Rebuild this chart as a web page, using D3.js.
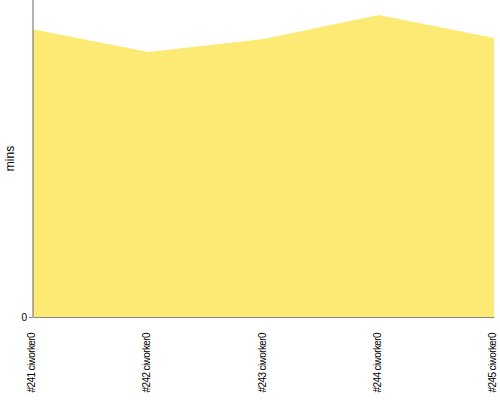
<!DOCTYPE html>
<html><head><meta charset="utf-8">
<script src="https://cdn.jsdelivr.net/npm/d3@7"></script>
<style>body{margin:0;background:#fff}svg{display:block}</style>
</head><body>
<svg id="c" width="500" height="400"></svg>
<script>
const categories = ["#241 ciworker0", "#242 ciworker0", "#243 ciworker0", "#244 ciworker0", "#245 ciworker0"];
const values = [9.08, 8.36, 8.77, 9.53, 8.80];
const yTicks = [0];

const svg = d3.select("#c");
const m = {left: 33, right: 6, top: 0, bottom: 83};
const W = 500, H = 400;
const x = d3.scalePoint().domain(categories).range([m.left, W - m.right]);
const y = d3.scaleLinear().domain([0, 10]).range([H - m.bottom, m.top]);

const area = d3.area().x((d, i) => x(categories[i])).y0(y(0)).y1(d => y(d));
svg.append("path").datum(values).attr("d", area).attr("fill", "#fdea74");

const gx = svg.append("g").attr("transform", `translate(0,${y(0)})`)
  .call(d3.axisBottom(x).tickSize(0).tickPadding(0));
gx.select(".domain").attr("stroke", "#888");
gx.selectAll("text").attr("transform", "rotate(-90)").attr("text-anchor", "end")
  .attr("x", -16).attr("y", -2).attr("dy", "0.35em")
  .style("font-family", "Liberation Sans, Arial, sans-serif").style("font-size", "10px")
  .style("letter-spacing", "-0.6px").attr("fill", "#000");

const gy = svg.append("g").attr("transform", `translate(${m.left},0)`)
  .call(d3.axisLeft(y).tickValues(yTicks).tickSize(4).tickPadding(2));
gy.select(".domain").attr("stroke", "#666").attr("d", `M0,${y(0)}V${m.top}`);
gy.selectAll(".tick line").attr("stroke", "#888");
gy.selectAll("text").style("font-family", "Liberation Sans, Arial, sans-serif").style("font-size", "10px").attr("fill", "#000");

svg.append("text").attr("transform", `translate(14,${(y(0)+m.top)/2}) rotate(-90)`)
  .attr("text-anchor", "middle")
  .style("font-family", "Liberation Sans, Arial, sans-serif").style("font-size", "12px")
  .text("mins");
</script>
</body></html>
